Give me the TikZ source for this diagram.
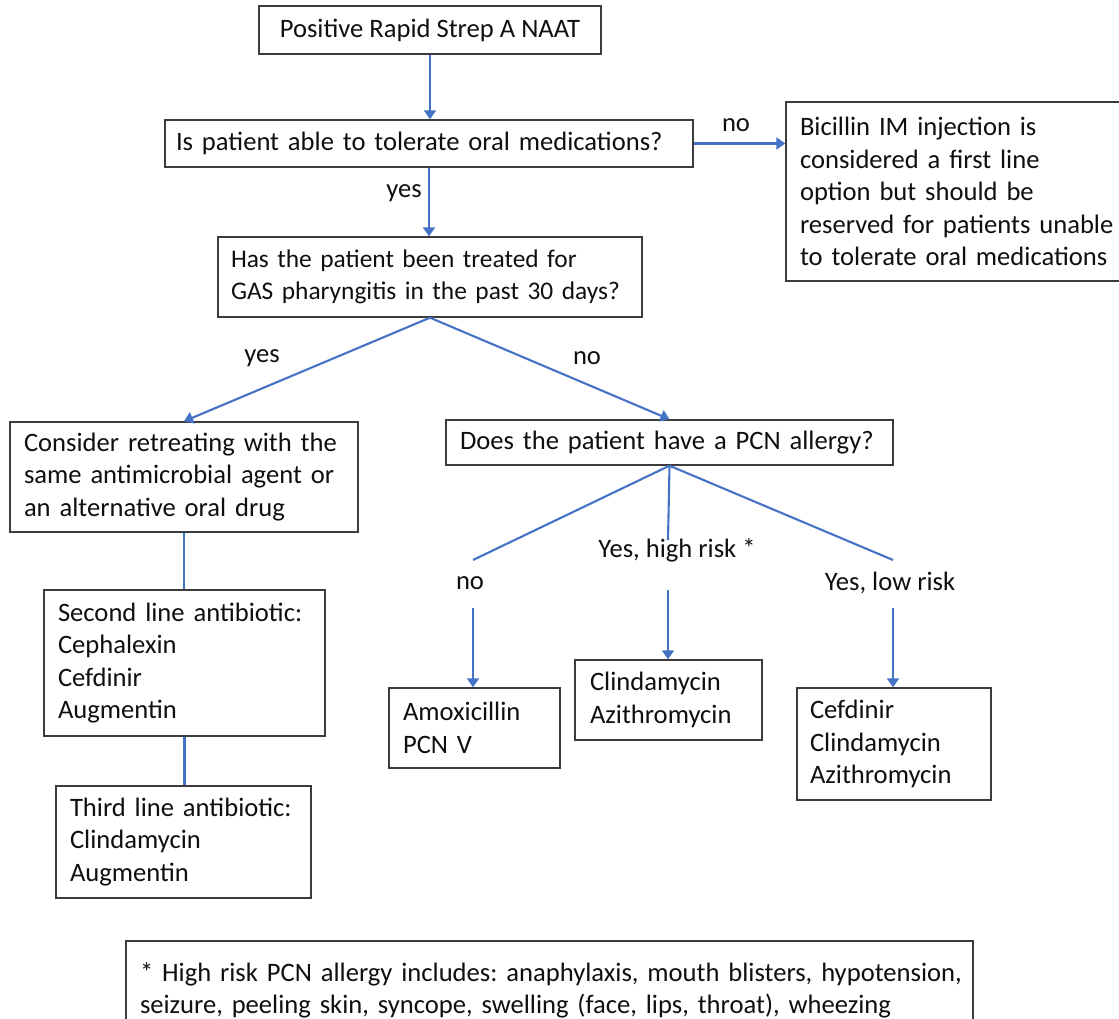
\documentclass[tikz,border=0pt]{standalone}
\usepackage{fontspec}
\setmainfont{Carlito}
\usetikzlibrary{arrows.meta}
\definecolor{lineblue}{RGB}{68,114,196}
\definecolor{boxgray}{RGB}{60,60,60}
\definecolor{txt}{RGB}{15,15,15}
\newcommand\dfont{\fontsize{26.6}{32.4}\selectfont\frenchspacing}
\newcommand\keepln[1]{\mbox{#1}}
\begin{document}
\begin{tikzpicture}[x=1pt,y=-1pt,
  box/.style={draw=boxgray, line width=1.4pt, inner ysep=0pt, inner xsep=0pt, align=left,
    font=\dfont, text=txt},
  lbl/.style={font=\dfont, text=txt, inner sep=0pt},
  conn/.style={draw=lineblue, line width=2.1pt},
  arr/.style={conn, -{Triangle[length=9pt,width=12pt]}}]
\useasboundingbox (0,0) rectangle (1119,1019);
\clip (0,0) rectangle (1119,1019);

% boxes
\node[box, align=center, minimum width=342pt, minimum height=48pt] (start) at (430,30)
  {\keepln{Positive Rapid Strep A NAAT}};
\node[box, minimum width=528pt, minimum height=47pt, text width=506pt] (q1) at (429,143.5)
  {\keepln{Is patient able to tolerate oral medications?}};
\node[box, minimum width=339pt, minimum height=179pt, text width=311pt] (bic) at (955.5,191.5)
  {\keepln{Bicillin IM injection is}\\\keepln{considered a first line}\\\keepln{option but should be}\\\keepln{reserved for patients unable}\\\keepln{to tolerate oral medications}};
\node[box, minimum width=424pt, minimum height=80pt, text width=398pt,
  font=\fontsize{25.4}{32.4}\selectfont\frenchspacing] (q2) at (430,277)
  {\keepln{Has the patient been treated for}\\\keepln{GAS pharyngitis in the past 30 days?}};
\node[box, minimum width=348pt, minimum height=110pt, text width=320pt] (cons) at (184,477)
  {\keepln{Consider retreating with the}\\\keepln{same antimicrobial agent or}\\\keepln{an alternative oral drug}};
\node[box, minimum width=447pt, minimum height=45pt, text width=419pt] (pcn) at (669.5,442.5)
  {\keepln{Does the patient have a PCN allergy?}};
\node[box, minimum width=281pt, minimum height=146pt, text width=253pt] (sec) at (184.5,663)
  {\keepln{Second line antibiotic:}\\Cephalexin\\Cefdinir\\Augmentin};
\node[box, minimum width=255pt, minimum height=112pt, text width=227pt] (third) at (183.5,842)
  {\keepln{Third line antibiotic:}\\Clindamycin\\Augmentin};
\node[box, minimum width=171pt, minimum height=80pt, text width=143pt] (amox) at (474.5,728)
  {Amoxicillin\\\keepln{PCN V}};
\node[box, minimum width=187pt, minimum height=80pt, text width=157pt] (clin) at (668.5,700)
  {Clindamycin\\Azithromycin};
\node[box, minimum width=194pt, minimum height=112pt, text width=168pt] (cef) at (894,744)
  {Cefdinir\\Clindamycin\\Azithromycin};
\node[box, minimum width=847pt, minimum height=99pt, text width=819pt] (foot) at (549.5,990.5)
  {\keepln{* High risk PCN allergy includes: anaphylaxis, mouth blisters, hypotension,}\\\keepln{seizure, peeling skin, syncope, swelling (face, lips, throat), wheezing}};

% labels
\node[lbl] (lq1no) at (736,125) {no};
\node[lbl] (lq1yes) at (404,193) {yes};
\node[lbl] (lq2yes) at (262,358) {yes};
\node[lbl] (lq2no) at (587,358) {no};
\node[lbl] (lpno) at (470,583) {no};
\node[lbl] (lphigh) at (677,550) {Yes, high risk *};
\node[lbl] (lplow) at (890,583) {Yes, low risk};

% free ends
\coordinate (pl) at (473,560);
\coordinate (pm) at (668,540);
\coordinate (pr) at (893,560);
\coordinate (al) at (473,608);
\coordinate (am) at (668,590);
\coordinate (ar) at (893,608);

% connectors
\draw[arr] (start.south) -- (start.south |- q1.north);
\draw[arr] (q1.east) -- (q1.east -| bic.west);
\draw[arr] (q1.south) -- (q1.south |- q2.north);
\draw[arr] (q2.south) -- (cons.north);
\draw[arr] (q2.south) -- (pcn.north);
\draw[conn] (pcn.south) -- (pl);
\draw[conn] (pcn.south) -- (pm);
\draw[conn] (pcn.south) -- (pr);
\draw[arr] (al) -- (al |- amox.north);
\draw[arr] (am) -- (am |- clin.north);
\draw[arr] (ar) -- (ar |- cef.north);
\draw[conn] (cons.south) -- (cons.south |- sec.north);
\draw[conn] (sec.south) -- (sec.south |- third.north);
\end{tikzpicture}
\end{document}
